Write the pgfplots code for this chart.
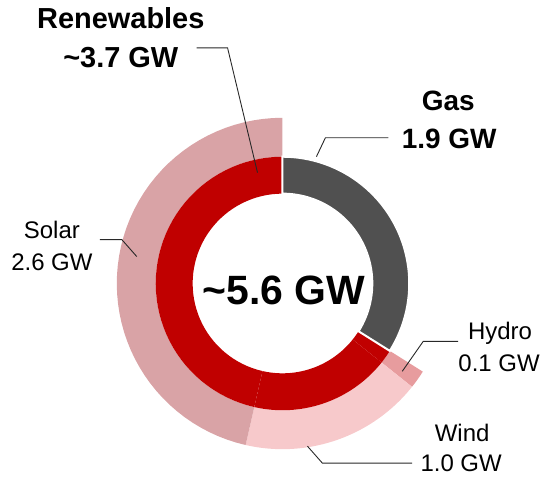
\documentclass[border=0pt]{standalone}
\usepackage{pgfplots}
\usepackage{pgfplotstable}
\pgfplotsset{compat=1.18}
\usepackage{fontspec}
\setmainfont{Liberation Sans}

\definecolor{gasc}{RGB}{80,80,80}
\definecolor{renc}{RGB}{192,0,0}
\definecolor{solarc}{RGB}{217,163,166}
\definecolor{windc}{RGB}{247,201,203}
\definecolor{hydroc}{RGB}{231,156,158}
\definecolor{leadc}{RGB}{40,40,40}

\pgfplotstableread{
name value
Gas 1.9
Hydro 0.1
Wind 1.0
Solar 2.6
}\capdata

\pgfplotstablegetelem{0}{value}\of\capdata \let\vGas\pgfplotsretval
\pgfplotstablegetelem{1}{value}\of\capdata \let\vHydro\pgfplotsretval
\pgfplotstablegetelem{2}{value}\of\capdata \let\vWind\pgfplotsretval
\pgfplotstablegetelem{3}{value}\of\capdata \let\vSolar\pgfplotsretval

\pgfmathsetmacro{\vTotal}{\vGas+\vHydro+\vWind+\vSolar}
\pgfmathsetmacro{\dpv}{360/\vTotal}
\pgfmathsetmacro{\aTop}{90}
\pgfmathsetmacro{\aG}{\aTop-\vGas*\dpv}
\pgfmathsetmacro{\aH}{\aG-\vHydro*\dpv}
\pgfmathsetmacro{\aW}{\aH-\vWind*\dpv}
\pgfmathsetmacro{\aS}{\aW-\vSolar*\dpv}

\def\cx{283}
\def\cy{193}
\def\rIn{90}
\def\rMid{127}
\def\rOut{166}

% annular sector: #1 options, #2 start angle, #3 end angle, #4 inner r, #5 outer r
\newcommand{\ringseg}[5]{%
  \addplot[#1, samples at={0,...,101}, variable=\t]
   ({\cx + (#4 + (#5-#4)*(\t<50.5)) * cos((\t<50.5)*(#2+(#3-#2)*\t/50) + (\t>50.5)*(#3+(#2-#3)*(\t-51)/50))},
    {\cy + (#4 + (#5-#4)*(\t<50.5)) * sin((\t<50.5)*(#2+(#3-#2)*\t/50) + (\t>50.5)*(#3+(#2-#3)*(\t-51)/50))}) -- cycle;
}

\begin{document}
\begin{tikzpicture}
\begin{axis}[
  width=543bp, height=477bp, scale only axis,
  xmin=0, xmax=543, ymin=0, ymax=477,
  hide axis, clip=false,
]
\addplot[draw=none, forget plot] coordinates {(0,0) (543,477)};

% outer ring (renewables breakdown)
\ringseg{fill=hydroc, draw=none}{\aG}{\aH}{\rMid}{\rOut}
\ringseg{fill=windc, draw=none}{\aH}{\aW}{\rMid}{\rOut}
\ringseg{fill=solarc, draw=none}{\aW}{\aS}{\rMid}{\rOut}

% inner ring
\ringseg{fill=renc, draw=none}{\aG}{\aH}{\rIn}{\rMid}
\ringseg{fill=renc, draw=none}{\aH}{\aW}{\rIn}{\rMid}
\ringseg{fill=renc, draw=none}{\aW}{\aS}{\rIn}{\rMid}
\ringseg{fill=gasc, draw=white, line width=2bp}{\aTop}{\aG}{\rIn}{\rMid}

% leader lines
\addplot[leadc, line width=0.9bp] coordinates {(197,429) (228,429) (258,304)};
\addplot[leadc, line width=0.9bp] coordinates {(317,320) (326,339) (389,339)};
\addplot[leadc, line width=0.9bp] coordinates {(100,237) (122,237) (137,220)};
\addplot[leadc, line width=0.9bp] coordinates {(403,105) (424,135) (459,135)};
\addplot[leadc, line width=0.9bp] coordinates {(308,30) (323,13) (413,13)};

% labels
\node[anchor=base, font=\fontsize{29bp}{32bp}\selectfont\bfseries] at (axis cs:121,448) {Renewables};
\node[anchor=base, font=\fontsize{29bp}{32bp}\selectfont\bfseries] at (axis cs:121,409) {\textasciitilde 3.7 GW};
\node[anchor=base, font=\fontsize{28bp}{32bp}\selectfont\bfseries] at (axis cs:449,366) {Gas};
\node[anchor=base, font=\fontsize{28bp}{32bp}\selectfont\bfseries] at (axis cs:450,328) {1.9 GW};
\node[anchor=base, font=\fontsize{41bp}{44bp}\selectfont\bfseries] at (axis cs:284.5,172) {\textasciitilde 5.6 GW};
\node[anchor=base, font=\fontsize{24bp}{28bp}\selectfont] at (axis cs:52,238) {Solar};
\node[anchor=base, font=\fontsize{24bp}{28bp}\selectfont] at (axis cs:52,206) {2.6 GW};
\node[anchor=base, font=\fontsize{24bp}{28bp}\selectfont] at (axis cs:501,137) {Hydro};
\node[anchor=base, font=\fontsize{24bp}{28bp}\selectfont] at (axis cs:500,105) {0.1 GW};
\node[anchor=base, font=\fontsize{24bp}{28bp}\selectfont] at (axis cs:463,35) {Wind};
\node[anchor=base, font=\fontsize{24bp}{28bp}\selectfont] at (axis cs:462,5) {1.0 GW};
\end{axis}
\end{tikzpicture}
\end{document}
